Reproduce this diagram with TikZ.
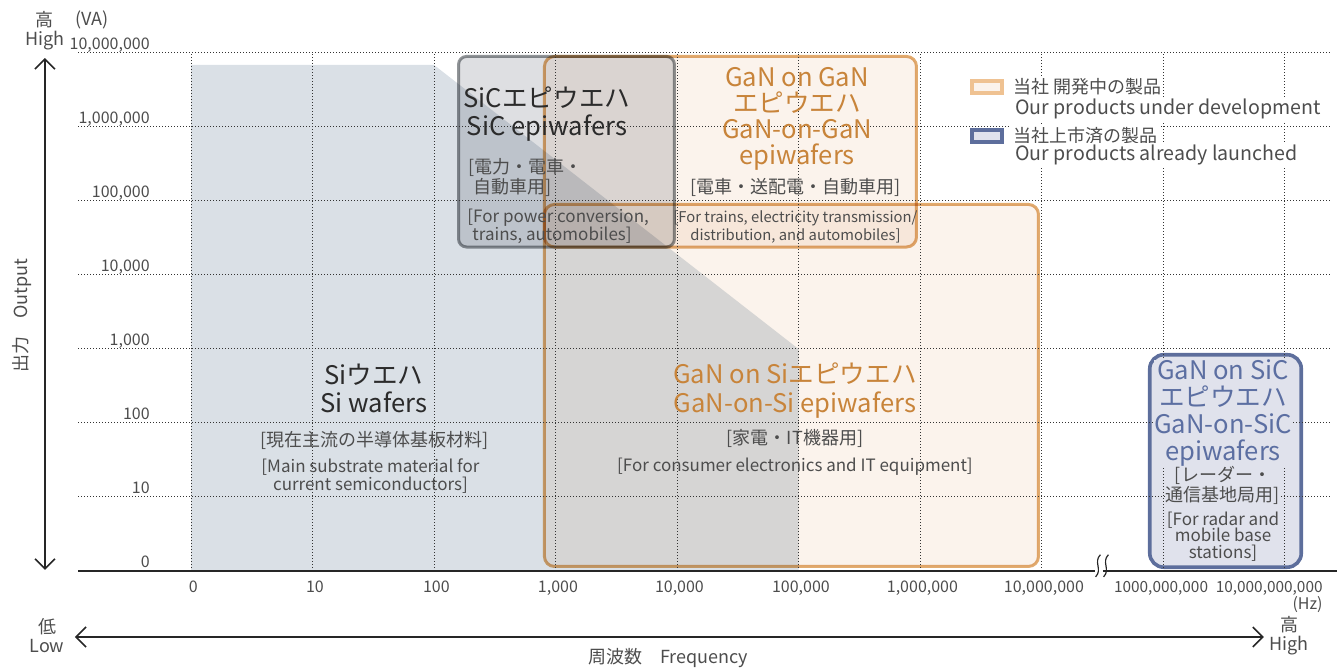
\documentclass[tikz,border=0pt]{standalone}
\usepackage{fontspec}
\setmainfont{Noto Sans CJK JP}
\usetikzlibrary{positioning,arrows.meta}
\definecolor{sigray}{HTML}{DAE0E6}
\definecolor{sicfill}{HTML}{DEDFE2}
\definecolor{sicline}{HTML}{939699}
\definecolor{peach}{HTML}{FBF3EC}
\definecolor{ganline}{HTML}{E2AC70}
\definecolor{legline}{HTML}{EFC292}
\definecolor{relfill}{HTML}{E0E2EC}
\definecolor{relline}{HTML}{5D6E9C}
\definecolor{orangetxt}{HTML}{C8843A}
\definecolor{bluetxt}{HTML}{5C6FA2}
\definecolor{darktxt}{HTML}{2B2B2B}
\definecolor{graytxt}{HTML}{4D4D4D}
\begin{document}
\begin{tikzpicture}[x=60.75pt,y=37pt,
  >={Straight Barb[length=5pt,width=10pt]},
  grid/.style={draw=black!80,line width=0.5pt,dash pattern=on 0.5pt off 1pt},
  axis/.style={draw=black!85,line width=0.8pt},
  sicbox/.style={draw=sicline,fill=sicfill,line width=1.5pt,rounded corners=4pt,blend mode=multiply},
  devbox/.style={draw=ganline,fill=peach,line width=1.5pt,rounded corners=5pt,blend mode=multiply},
  relbox/.style={draw=relline,fill=relfill,line width=1.8pt,rounded corners=7pt},
  ttl/.style={align=center,inner sep=0pt,font=\fontsize{12.8}{14}\selectfont},
  subjp/.style={align=center,inner sep=0pt,text=graytxt,font=\fontsize{9}{10}\selectfont},
  suben/.style={align=center,inner sep=0pt,text=graytxt,font=\fontsize{8.5}{9}\selectfont},
  tick/.style={inner sep=0pt,text=graytxt,font=\fontsize{8}{9}\selectfont},
  axlab/.style={align=center,inner sep=0pt,text=graytxt,font=\fontsize{9}{9.5}\selectfont},
  legtxt/.style={anchor=west,inner sep=1pt,fill=white,text=graytxt},
  legbox/.style={draw,line width=2pt,minimum width=15pt,minimum height=6pt,inner sep=0pt}]
\useasboundingbox (-1.572,-1.311) rectangle (9.432,7.716);
% Si region
\fill[sigray] (0,0) -- (0,6.838) -- (2,6.838) -- (5,3) -- (5,0) -- cycle;
% product areas
\draw[sicbox] (2.202,4.378) rectangle (3.979,6.953);
\draw[devbox] (2.909,4.378) rectangle (5.971,6.953);
\draw[devbox] (2.909,0.061) rectangle (6.975,4.953);
\draw[relbox] (7.891,0.051) rectangle (9.138,2.922);
% grid
\foreach \j in {1,...,7} \draw[grid] (-0.93,\j) -- (9.39,\j);
\foreach \i in {0,...,9} \draw[grid] (\i,0) -- (\i,7);
% axes
\draw[axis] (-0.93,0) -- (7.44,0);
\draw[axis] (7.506,0) -- (9.432,0);
\coordinate (brk) at (7.473,0);
\draw[axis,line width=0.6pt] ([xshift=-0.5pt]brk) ++(0.02,0.22) .. controls ++(-0.06,-0.10) and ++(0.06,0.10) .. ++(-0.04,-0.30);
\draw[axis,line width=0.6pt] ([xshift=3.5pt]brk) ++(0.02,0.22) .. controls ++(-0.06,-0.10) and ++(0.06,0.10) .. ++(-0.04,-0.30);
\coordinate (ytop) at (-1.202,6.932);
\coordinate (ybot) at (-1.202,0.014);
\draw[axis,<->] (ytop) -- (ybot);
\coordinate (xleft) at (-0.955,-0.892);
\coordinate (xright) at (8.831,-0.892);
\draw[axis,<->] (xleft) -- (xright);
% tick labels
\foreach \j/\lab in {0/0,1/10,2/100,3/{1,000},4/{10,000},5/{100,000},6/{1,000,000},7/{10,000,000}}
  \node[tick,anchor=base east] (y\j) at (-0.337,\j+0.05) {\lab};
\foreach \i/\lab in {0/0,1/10,2/100,3/{1,000},4/{10,000},5/{100,000},6/{1,000,000},7/{10,000,000}}
  \node[tick,anchor=base] (x\i) at (\i+0.02,-0.297) {\lab};
\node[tick,anchor=base,font=\fontsize{7.7}{9}\selectfont] (x8) at (7.984,-0.297) {1000,000,000};
\node[tick,anchor=base east,font=\fontsize{7.7}{9}\selectfont] (x9) at (9.317,-0.297) {10,000,000,000};
\node[tick,anchor=base east] (hz) at (9.317,-0.527) {(Hz)};
\node[axlab] (va) at (-0.815,7.446) {(VA)};
\node[axlab] (yhigh) at (-1.202,7.297) {高\\High};
\node[axlab] (xlow) at (-1.185,-0.878) {低\\Low};
\node[axlab] (xhigh) at (9.037,-0.878) {高\\High};
\node[axlab,rotate=90] (ylab) at (-1.391,3.446) {出力　Output};
\node[axlab] (xlab) at (3.926,-1.176) {周波数　Frequency};
% Si wafers
\node[ttl,text=darktxt] (si) at (1.506,2.470) {Siウエハ\\Si wafers};
\node[subjp] (sijp) at (1.510,1.770) {[現在主流の半導体基板材料]};
\node[suben] (sien) at (1.477,1.284) {[Main substrate material for\\current semiconductors]};
% SiC epiwafers
\node[ttl,text=darktxt] (sic) at (2.930,6.176) {SiCエピウエハ\\SiC epiwafers};
\node[subjp,align=left,anchor=west] (sicjp) at (2.280,5.318) {[電力・電車・\\\hspace{2.5pt}自動車用]};
\node[suben,align=left,anchor=west] (sicen) at (2.272,4.662) {[For power conversion,\\\hspace{2.5pt}trains, automobiles]};
% GaN on GaN
\node[ttl,text=orangetxt] (gg) at (4.988,6.115) {GaN on GaN\\[-1pt]エピウエハ\\[-1pt]GaN-on-GaN\\[-1pt]epiwafers};
\node[subjp] (ggjp) at (4.979,5.189) {[電車・送配電・自動車用]};
\node[suben,font=\fontsize{7.4}{9}\selectfont] (ggen) at (4.975,4.649) {[For trains, electricity transmission/\\distribution, and automobiles]};
% GaN on Si
\node[ttl,text=orangetxt] (gs) at (4.971,2.433) {GaN on Siエピウエハ\\[0.5pt]GaN-on-Si epiwafers};
\node[subjp] (gsjp) at (4.971,1.784) {[家電・IT機器用]};
\node[suben] (gsen) at (4.971,1.405) {[For consumer electronics and IT equipment]};
% GaN on SiC
\node[ttl,text=bluetxt,fill=relfill] (gc) at (8.494,2.130) {GaN on SiC\\[-0.5pt]エピウエハ\\[-0.5pt]GaN-on-SiC\\[-0.5pt]epiwafers};
\node[subjp,fill=relfill] (gcjp) at (8.494,1.162) {[レーダー・\\通信基地局用]};
\node[suben,font=\fontsize{8.5}{8.3}\selectfont] (gcen) at (8.494,0.466) {[For radar and\\mobile base\\stations]};
% legend
\node[legbox,draw=legline,fill=peach] (legdev) at (6.551,6.541) {};
\node[legbox,draw=relline,fill=relfill] (legrel) at (6.551,5.878) {};
\node[legtxt,font=\fontsize{9}{10}\selectfont,right=3.5pt of legdev] (devjp) {当社 開発中の製品};
\node[legtxt,font=\fontsize{9.8}{11}\selectfont] (deven) at (6.765,6.243) {Our products under development};
\node[legtxt,font=\fontsize{9}{10}\selectfont,right=3.5pt of legrel] (reljp) {当社上市済の製品};
\node[legtxt,font=\fontsize{9.8}{11}\selectfont] (relen) at (6.765,5.622) {Our products already launched};
\end{tikzpicture}
\end{document}
